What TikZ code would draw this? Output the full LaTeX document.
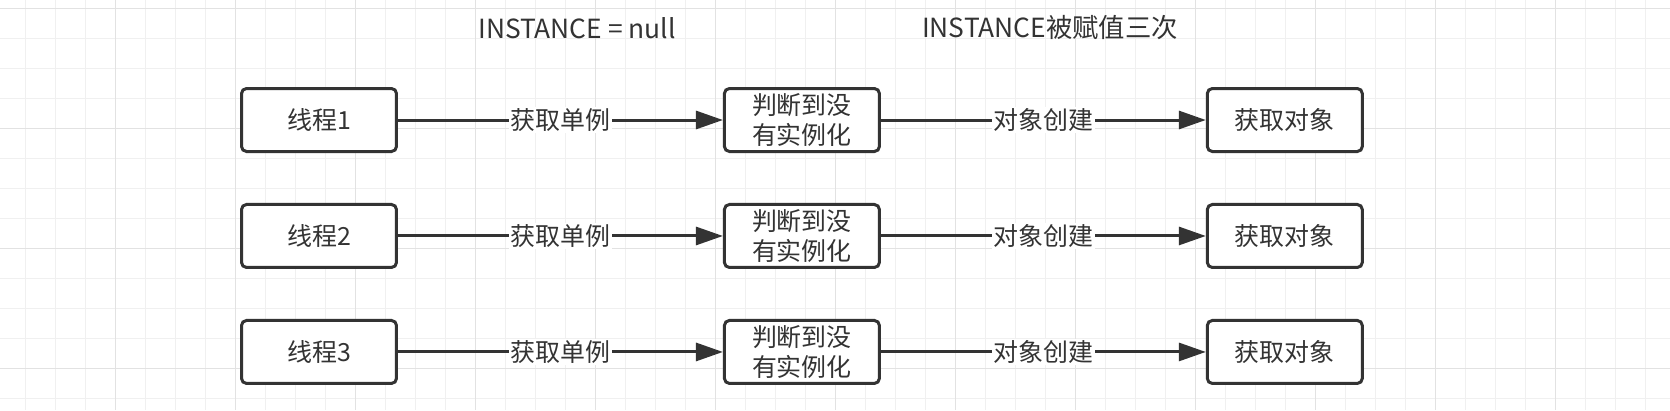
\documentclass[tikz,border=0pt]{standalone}
\usepackage{fontspec}
\setmainfont{Noto Sans CJK SC}
\usepackage{tikz}
\usetikzlibrary{positioning}
\usetikzlibrary{arrows.meta}

\definecolor{darkline}{HTML}{333333}
\definecolor{gridminor}{HTML}{F0F0F0}
\definecolor{gridmajor}{HTML}{E2E2E2}

\begin{document}
\begin{tikzpicture}[
            x = 0.02cm,
            y = -0.02cm,
            box/.style = {
                draw = darkline,
                fill = white,
                text = darkline,
                line width = 0.06cm,
                rounded corners = 0.1cm,
                minimum width = 3.1cm,
                minimum height = 1.26cm,
                inner sep = 0pt,
                align = center,
                font = \fontsize{14.2pt}{17.5pt}\selectfont
            },
            flow/.style = {
                draw = darkline,
                line width = 0.06cm,
                -{Triangle[length=0.54cm, width=0.36cm]}
            },
            lbl/.style = {
                fill = white,
                text = darkline,
                inner sep = 1pt,
                font = \fontsize{14.2pt}{17pt}\selectfont
            },
            title/.style = {
                text = darkline,
                inner sep = 1pt,
                font = \fontsize{15pt}{18pt}\selectfont
            },
            node distance = {1cm and 6.5cm}
            ]
            % background and grid
            \useasboundingbox (0,0) rectangle (1670,410);
            \fill[white] (0,0) rectangle (1670,410);
            \foreach \gx in {25,55,...,1645}
                \draw[gridminor, line width=0.02cm] (\gx,0) -- (\gx,410);
            \foreach \gy in {8,38,...,398}
                \draw[gridminor, line width=0.02cm] (0,\gy) -- (1670,\gy);
            \foreach \gx in {115,235,...,1555}
                \draw[gridmajor, line width=0.02cm] (\gx,0) -- (\gx,410);
            \foreach \gy in {8,128,...,368}
                \draw[gridmajor, line width=0.02cm] (0,\gy) -- (1670,\gy);

            % titles
            \node[title] (null) at (577,28) {INSTANCE = null};
            \node[title] (thrice) at (1050,28) {INSTANCE被赋值三次};

            % threads
            \node[box] (t1) at (319,120) {线程1};
            \node[box, below=of t1] (t2) {线程2};
            \node[box, below=of t2] (t3) {线程3};

            \node[box, right=of t1] (j1) {判断到没\\有实例化};
            \node[box, right=of t2] (j2) {判断到没\\有实例化};
            \node[box, right=of t3] (j3) {判断到没\\有实例化};

            \node[box, right=of j1] (o1) {获取对象};
            \node[box, right=of j2] (o2) {获取对象};
            \node[box, right=of j3] (o3) {获取对象};

            \draw[flow] (t1) -- node[lbl] {获取单例} (j1);
            \draw[flow] (t2) -- node[lbl] {获取单例} (j2);
            \draw[flow] (t3) -- node[lbl] {获取单例} (j3);

            \draw[flow] (j1) -- node[lbl] {对象创建} (o1);
            \draw[flow] (j2) -- node[lbl] {对象创建} (o2);
            \draw[flow] (j3) -- node[lbl] {对象创建} (o3);
        \end{tikzpicture}
\end{document}
